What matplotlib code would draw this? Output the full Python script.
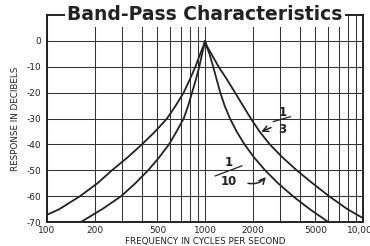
import numpy as np
import matplotlib.pyplot as plt

# readings: frequency (Hz) and response (dB)
third_freq = [100, 120, 162, 209, 258, 324, 399, 484, 575, 653, 733, 800, 869, 933, 977, 1000,
              1028, 1096, 1219, 1380, 1549, 1738, 1950, 2213, 2570, 3090, 3802, 4786, 6095, 7943, 10000]
third_db = [-67.2, -65, -60, -55, -50, -45, -40, -35, -30, -25, -20, -15, -10, -5, -2, 0,
            -2, -5, -10, -15, -20, -25, -30, -35, -40, -45, -50, -55, -60, -65, -68.5]

tenth_freq = [164, 224, 295, 363, 437, 513, 592, 661, 733, 783, 828, 875, 920, 959, 989, 1000,
              1014, 1067, 1127, 1186, 1250, 1330, 1439, 1585, 1778, 2042, 2399, 2897, 3597, 4592, 6026]
tenth_db = [-70, -65, -60, -55, -50, -45, -40, -35, -30, -25, -20, -15, -10, -5, -1.5, 0,
            -1.5, -5, -10, -15, -20, -25, -30, -35, -40, -45, -50, -55, -60, -65, -70]

grid_freqs = [100, 200, 300, 400, 500, 600, 700, 800, 900,
              1000, 2000, 3000, 4000, 5000, 6000, 7000, 8000, 9000, 10000]
freq_labels = {100: '100', 200: '200', 500: '500', 1000: '1000',
               2000: '2000', 5000: '5000', 10000: '10,000'}
db_ticks = [-70, -60, -50, -40, -30, -20, -10, 0]

ink = '#222222'
fig = plt.figure(figsize=(3.7, 2.46), dpi=100)
ax = fig.add_axes([47 / 370, 1 - 222 / 246, 316 / 370, 207 / 246])

ax.set_xscale('log')
ax.set_xlim(100, 10000)
ax.set_ylim(-70, 10)

ax.set_xticks(grid_freqs)
ax.set_xticklabels([freq_labels.get(f, '') for f in grid_freqs])
ax.xaxis.set_minor_locator(plt.NullLocator())
ax.set_yticks(db_ticks)
ax.set_yticklabels([str(d) for d in db_ticks])
ax.tick_params(length=0, labelsize=6.5, colors=ink)
ax.tick_params(axis='x', pad=3)
ax.tick_params(axis='y', pad=4)
ax.grid(True, color='#333333', lw=0.75)

for s in ax.spines.values():
    s.set_linewidth(1.4)
    s.set_color(ink)

ax.plot(third_freq, third_db, color=ink, lw=1.3)
ax.plot(tenth_freq, tenth_db, color=ink, lw=1.3)

# title sitting on the top frame line
ax.text(0.5, 1.0, 'Band-Pass Characteristics', transform=ax.transAxes,
        ha='center', va='center', fontsize=13.5, fontweight='bold', color=ink,
        bbox=dict(facecolor='white', edgecolor='none', pad=1.5))

ax.set_xlabel('FREQUENCY IN CYCLES PER SECOND', fontsize=6.3, color=ink, labelpad=1)
ax.set_ylabel('RESPONSE IN DECIBELS', fontsize=6.3, color=ink, labelpad=5)

# fraction labels with arrows
ax.text(3083, -27.8, '1', ha='center', va='center', fontsize=8.5, fontweight='bold', color=ink)
ax.text(3083, -34.4, '3', ha='center', va='center', fontsize=8.5, fontweight='bold', color=ink)
ax.plot([2704, 3467], [-31.2, -29.3], color=ink, lw=0.9)
ax.annotate('', xy=(2183, -35.5), xytext=(2716, -33.1),
            arrowprops=dict(arrowstyle='->', color=ink, lw=1.1))

ax.text(1409, -47.1, '1', ha='center', va='center', fontsize=8.5, fontweight='bold', color=ink)
ax.text(1409, -54.4, '10', ha='center', va='center', fontsize=8.5, fontweight='bold', color=ink)
ax.plot([1161, 1714], [-52.2, -48.3], color=ink, lw=0.9)
ax.annotate('', xy=(2489, -51.8), xytext=(1799, -54.8),
            arrowprops=dict(arrowstyle='->', color=ink, lw=1.1,
                            connectionstyle='arc3,rad=0.35'))

fig.savefig('out.png', dpi=100)
